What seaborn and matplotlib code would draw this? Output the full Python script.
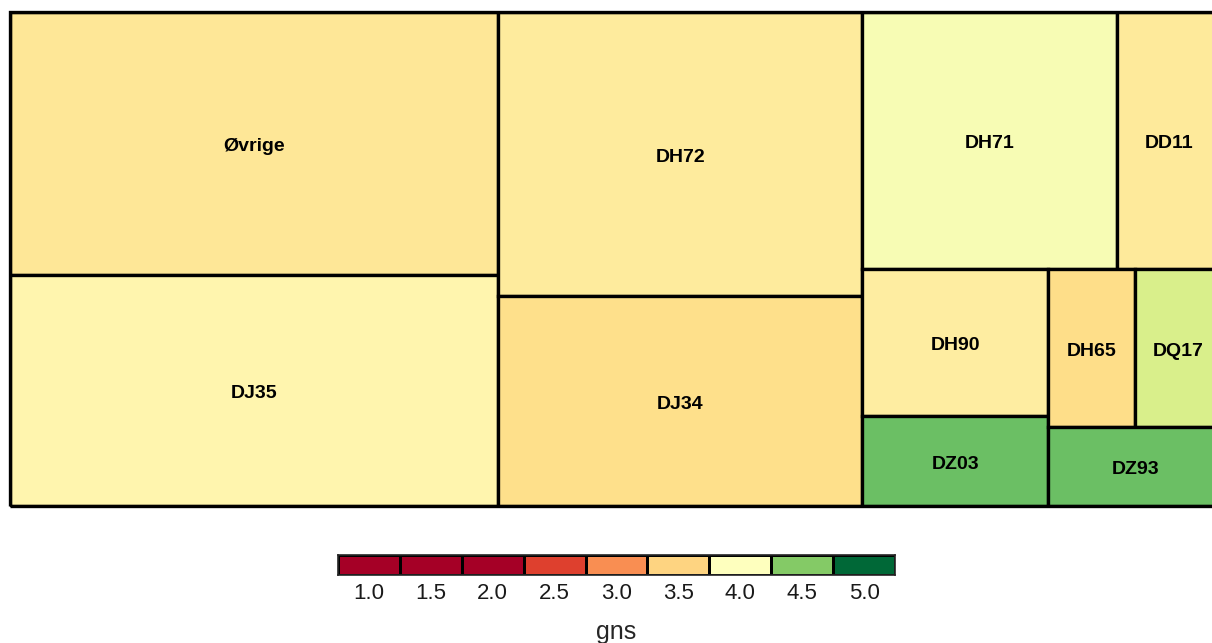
import numpy as np
import seaborn as sns
import matplotlib.pyplot as plt
import matplotlib.colors as mcolors
from matplotlib.patches import Rectangle

sns.set_style('white')
plt.rcParams['font.family'] = ['Liberation Sans', 'DejaVu Sans']

# tile labels, sizes (area) and mean score (gns)
labels = ['Øvrige', 'DJ35', 'DH72', 'DJ34', 'DH71', 'DD11',
          'DH90', 'DZ03', 'DH65', 'DQ17', 'DZ93']
sizes = [128.3, 112.7, 103.4, 76.4, 65.5, 27.0, 27.3, 16.7, 13.7, 13.7, 13.7]
gns = [3.70, 3.87, 3.74, 3.60, 4.04, 3.73, 3.78, 4.58, 3.58, 4.20, 4.58]

legend_ticks = [1.0, 1.5, 2.0, 2.5, 3.0, 3.5, 4.0, 4.5, 5.0]

# nesting of the tiles: 'h' = side by side, 'v' = stacked
layout = ('h', [
    ('v', ['Øvrige', 'DJ35']),
    ('v', ['DH72', 'DJ34']),
    ('v', [
        ('h', ['DH71', 'DD11']),
        ('h', [
            ('v', ['DH90', 'DZ03']),
            ('v', [('h', ['DH65', 'DQ17']), 'DZ93']),
        ]),
    ]),
])

size_of = dict(zip(labels, sizes))
gns_of = dict(zip(labels, gns))

# RdYlGn with 2 -> red end, 4 -> middle, 5 -> green end
rdylgn = sns.color_palette('RdYlGn', as_cmap=True)


def colour(v):
    if v <= 4:
        f = np.clip((v - 2) / 4, 0, 0.5)
    else:
        f = 0.5 + (v - 4) / 2
    return rdylgn(f)


def total(node):
    if isinstance(node, str):
        return size_of[node]
    return sum(total(c) for c in node[1])


def place(node, x, y, w, h, out):
    # y measured from the top
    if isinstance(node, str):
        out.append((node, x, y, w, h))
        return
    direction, children = node
    s = total(node)
    pos = 0
    for c in children:
        frac = total(c) / s
        if direction == 'h':
            place(c, x + pos * w, y, frac * w, h, out)
        else:
            place(c, x, y + pos * h, w, frac * h, out)
        pos += frac


tiles = []
place(layout, 0, 0, 1, 1, tiles)

fig = plt.figure(figsize=(12.12, 6.43), dpi=100)

ax = fig.add_axes([10 / 1212, 1 - 506 / 643, 1212 / 1212, 494 / 643])
for name, x, y, w, h in tiles:
    ax.add_patch(Rectangle((x, 1 - y - h), w, h, facecolor=colour(gns_of[name]),
                           edgecolor='black', linewidth=2.4))
    ax.text(x + w / 2, 1 - y - h / 2 - 0.006, name, ha='center', va='center',
            fontsize=14, fontweight='bold', color='black')
ax.set_xlim(0, 1)
ax.set_ylim(0, 1)
ax.axis('off')
ax.add_patch(Rectangle((0, 0), 1, 1, fill=False, edgecolor='black',
                       linewidth=2.4, clip_on=False))

# legend as a one-row heatmap
lax = fig.add_axes([338 / 1212, 1 - 575 / 643, 557 / 1212, 20 / 643])
leg_cols = [colour(v) for v in legend_ticks]
cmap = mcolors.ListedColormap(leg_cols)
sns.heatmap(np.arange(len(legend_ticks)).reshape(1, -1), ax=lax, cmap=cmap,
            cbar=False, linewidths=1, linecolor='black',
            xticklabels=[f'{v:.1f}' for v in legend_ticks], yticklabels=False)
for s in lax.spines.values():
    s.set_visible(True)
    s.set_linewidth(1.2)
lax.tick_params(axis='x', length=0, labelsize=16, pad=6, labelcolor='#1a1a1a')
lax.set_xlabel('gns', fontsize=18, labelpad=11)

fig.savefig('out.png', dpi=100)
